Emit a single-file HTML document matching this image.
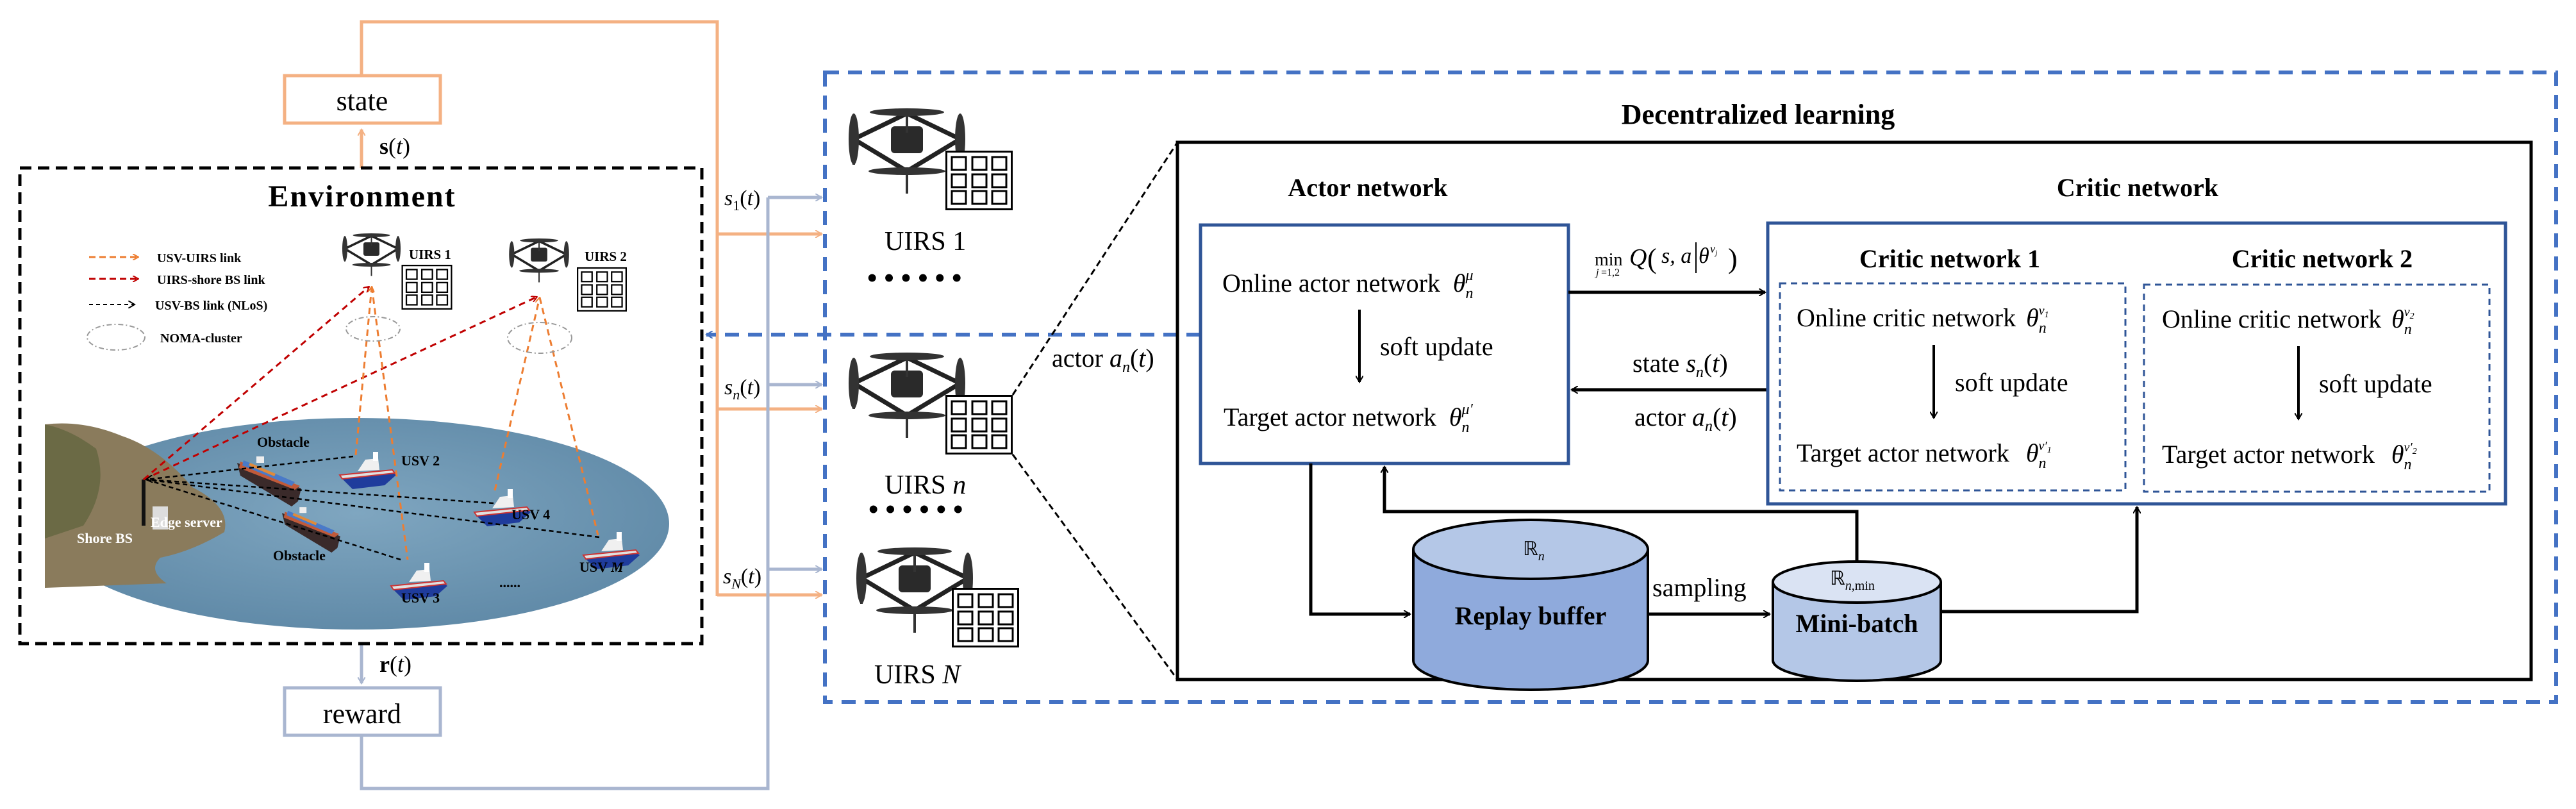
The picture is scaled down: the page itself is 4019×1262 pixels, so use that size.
<!DOCTYPE html>
<html><head><meta charset="utf-8"><style>
html,body{margin:0;padding:0;background:#fff}
svg{display:block}
svg text{font-family:"Liberation Serif","Times New Roman",serif}
.b{font-weight:bold}
.i{font-style:italic}
</style></head><body>
<svg width="4019" height="1262" viewBox="0 0 4019 1262" xmlns="http://www.w3.org/2000/svg" font-family="Liberation Serif, serif">
<defs>
<marker id="ao" markerWidth="12" markerHeight="12" refX="10" refY="6" orient="auto" markerUnits="userSpaceOnUse" viewBox="0 0 12 12"><path d="M0,0 L10,6 L0,12" fill="none" stroke="#f4b183" stroke-width="2"/></marker>
<marker id="ag" markerWidth="12" markerHeight="12" refX="10" refY="6" orient="auto" markerUnits="userSpaceOnUse" viewBox="0 0 12 12"><path d="M0,0 L10,6 L0,12" fill="none" stroke="#a9b6d0" stroke-width="2"/></marker>
<marker id="ak" markerWidth="12" markerHeight="12" refX="10" refY="6" orient="auto" markerUnits="userSpaceOnUse" viewBox="0 0 12 12"><path d="M0,0 L10,6 L0,12" fill="none" stroke="#000" stroke-width="2"/></marker>
<marker id="ab" markerWidth="12" markerHeight="12" refX="10" refY="6" orient="auto" markerUnits="userSpaceOnUse" viewBox="0 0 12 12"><path d="M0,0 L10,6 L0,12" fill="none" stroke="#4472c4" stroke-width="2"/></marker>
<marker id="ar" markerWidth="10" markerHeight="10" refX="9" refY="5" orient="auto" markerUnits="userSpaceOnUse" viewBox="0 0 10 10"><path d="M0,0 L9,5 L0,10" fill="none" stroke="#c00000" stroke-width="2"/></marker>
<marker id="aor" markerWidth="10" markerHeight="10" refX="9" refY="5" orient="auto" markerUnits="userSpaceOnUse" viewBox="0 0 10 10"><path d="M0,0 L9,5 L0,10" fill="none" stroke="#ed7d31" stroke-width="2"/></marker>
<radialGradient id="sea" cx="0.5" cy="0.45" r="0.6"><stop offset="0" stop-color="#7fa6c0"/><stop offset="1" stop-color="#5e88a6"/></radialGradient>
<symbol id="drone" viewBox="0 0 190 140" overflow="visible">
 <g stroke="#222" stroke-width="7" fill="none" stroke-linecap="round">
  <line x1="14" y1="52" x2="97" y2="12"/><line x1="97" y1="12" x2="180" y2="52"/>
  <line x1="14" y1="52" x2="97" y2="102"/><line x1="97" y1="102" x2="180" y2="52"/>
 </g>
 <rect x="72" y="32" width="50" height="42" rx="6" fill="#2a2a2a"/>
 <g fill="#333">
  <ellipse cx="97" cy="10" rx="58" ry="6"/><ellipse cx="97" cy="102" rx="60" ry="6"/>
  <ellipse cx="14" cy="52" rx="8" ry="40"/><ellipse cx="180" cy="52" rx="8" ry="40"/>
 </g>
 <g stroke="#333" stroke-width="4"><line x1="14" y1="52" x2="14" y2="92"/><line x1="180" y1="52" x2="180" y2="92"/><line x1="97" y1="102" x2="97" y2="137"/><line x1="97" y1="12" x2="97" y2="42"/></g>
</symbol>
<symbol id="grid" viewBox="0 0 105 93" overflow="visible">
 <rect x="1.5" y="1.5" width="102" height="90" fill="#fff" stroke="#000" stroke-width="3"/>
 <g fill="none" stroke="#000" stroke-width="3">
  <rect x="10" y="10" width="22" height="20"/><rect x="42" y="10" width="22" height="20"/><rect x="73" y="10" width="22" height="20"/>
  <rect x="10" y="37" width="22" height="20"/><rect x="42" y="37" width="22" height="20"/><rect x="73" y="37" width="22" height="20"/>
  <rect x="10" y="63" width="22" height="20"/><rect x="42" y="63" width="22" height="20"/><rect x="73" y="63" width="22" height="20"/>
 </g>
</symbol>
<symbol id="boat" viewBox="0 0 90 60" overflow="visible">
 <path d="M0,38 L80,30 L88,36 L70,52 L20,58 Z" fill="#1f3c9c"/>
 <path d="M0,36 L82,28 L86,33 L4,42 Z" fill="#e0e0e0" stroke="#c33" stroke-width="2"/>
 <path d="M28,30 L40,12 L60,10 L62,28 Z" fill="#f0f0f0"/>
 <rect x="52" y="0" width="8" height="14" fill="#fff"/>
</symbol>
<symbol id="ship" viewBox="0 0 110 80" overflow="visible">
 <path d="M0,10 L100,50 L95,70 L85,78 L5,30 Z" fill="#3a2a2a"/>
 <path d="M5,8 L98,46 L90,52 L3,18 Z" fill="#c05a3a"/>
 <path d="M10,6 L90,40 L85,46 L8,14 Z" fill="#4a7ac8"/>
 <path d="M20,10 L60,27 L58,31 L18,14 Z" fill="#e08a3a"/>
 <rect x="30" y="0" width="12" height="10" fill="#eee"/>
</symbol>
</defs>

<g fill="none" stroke-width="5">
 <polyline points="564,262 564,202" stroke="#f4b183" marker-end="url(#ao)"/>
 <polyline points="564,118 564,34 1119,34 1119,930" stroke="#f4b183"/>
 <line x1="1119" y1="365" x2="1282" y2="365" stroke="#f4b183" marker-end="url(#ao)"/>
 <line x1="1119" y1="638" x2="1282" y2="638" stroke="#f4b183" marker-end="url(#ao)"/>
 <line x1="1119" y1="928" x2="1282" y2="928" stroke="#f4b183" marker-end="url(#ao)"/>
 <polyline points="564,1004 564,1066" stroke="#a9b6d0" marker-end="url(#ag)"/>
 <polyline points="564,1147 564,1230 1198,1230 1198,308" stroke="#a9b6d0"/>
 <line x1="1198" y1="308" x2="1282" y2="308" stroke="#a9b6d0" marker-end="url(#ag)"/>
 <line x1="1198" y1="600" x2="1282" y2="600" stroke="#a9b6d0" marker-end="url(#ag)"/>
 <line x1="1198" y1="888" x2="1282" y2="888" stroke="#a9b6d0" marker-end="url(#ag)"/>
</g>
<rect x="444" y="118" width="243" height="74" fill="#fff" stroke="#f4b183" stroke-width="5"/>
<text x="565" y="172" font-size="44" text-anchor="middle">state</text>
<text x="592" y="240" font-size="36"><tspan class="b">s</tspan>(<tspan class="i">t</tspan>)</text>
<rect x="444" y="1073" width="243" height="74" fill="#fff" stroke="#a9b6d0" stroke-width="5"/>
<text x="565" y="1128" font-size="44" text-anchor="middle">reward</text>
<text x="592" y="1048" font-size="36"><tspan class="b">r</tspan>(<tspan class="i">t</tspan>)</text>
<text x="1130" y="320" font-size="34"><tspan class="i">s</tspan><tspan font-size="22" dy="8">1</tspan><tspan dy="-8">(</tspan><tspan class="i">t</tspan>)</text>
<text x="1130" y="615" font-size="34"><tspan class="i">s</tspan><tspan font-size="22" dy="8" class="i">n</tspan><tspan dy="-8">(</tspan><tspan class="i">t</tspan>)</text>
<text x="1128" y="910" font-size="34"><tspan class="i">s</tspan><tspan font-size="22" dy="8" class="i">N</tspan><tspan dy="-8">(</tspan><tspan class="i">t</tspan>)</text>

<rect x="31" y="262" width="1064" height="742" fill="none" stroke="#000" stroke-width="5" stroke-dasharray="18,10"/>
<text x="565" y="322" font-size="48" class="b" text-anchor="middle" letter-spacing="2">Environment</text>
<ellipse cx="557" cy="817" rx="487" ry="165" fill="url(#sea)"/>
<path d="M70,662 Q130,655 190,680 Q250,700 300,760 Q360,790 350,830 Q300,860 250,870 Q230,890 260,910 L70,917 Z" fill="#8a7b5c"/>
<path d="M70,662 Q110,670 150,700 Q170,760 130,820 L70,840 Z" fill="#6b6a45"/>
<line x1="224" y1="748" x2="224" y2="820" stroke="#111" stroke-width="6"/>
<rect x="238" y="790" width="24" height="36" fill="#ddd"/>
<text x="120" y="847" font-size="22" class="b" fill="#fff">Shore BS</text>
<text x="235" y="822" font-size="22" class="b" fill="#fff">Edge server</text>
<use href="#ship" x="370" y="712" width="110" height="80"/>
<use href="#ship" x="440" y="790" width="100" height="75"/>
<use href="#boat" x="530" y="705" width="90" height="60"/>
<use href="#boat" x="740" y="763" width="90" height="60"/>
<use href="#boat" x="910" y="830" width="90" height="60"/>
<use href="#boat" x="610" y="878" width="90" height="60"/>
<g font-size="22" class="b">
<text x="401" y="697">Obstacle</text><text x="426" y="874">Obstacle</text>
<text x="626" y="726">USV 2</text><text x="798" y="810">USV 4</text>
<text x="904" y="892">USV <tspan class="i">M</tspan></text><text x="626" y="940">USV 3</text>
<text x="779" y="916">......</text>
</g>
<g fill="none" stroke-width="3" stroke-dasharray="10,7">
 <line x1="224" y1="748" x2="576" y2="447" stroke="#c00000" marker-end="url(#ar)"/>
 <line x1="224" y1="748" x2="838" y2="463" stroke="#c00000" marker-end="url(#ar)"/>
 <line x1="555" y1="710" x2="580" y2="447" stroke="#ed7d31" marker-end="url(#aor)"/>
 <line x1="580" y1="447" x2="636" y2="873" stroke="#ed7d31"/>
 <line x1="772" y1="765" x2="842" y2="464" stroke="#ed7d31" marker-end="url(#aor)"/>
 <line x1="842" y1="464" x2="933" y2="835" stroke="#ed7d31"/>
 <g stroke="#000" stroke-width="2.5" stroke-dasharray="7,5">
 <line x1="551" y1="712" x2="228" y2="748" marker-end="url(#ak)"/>
 <line x1="770" y1="785" x2="228" y2="748"/>
 <line x1="935" y1="838" x2="228" y2="748"/>
 <line x1="625" y1="873" x2="228" y2="748"/>
 </g>
</g>
<ellipse cx="582" cy="513" rx="42" ry="19" fill="none" stroke="#999" stroke-width="2" stroke-dasharray="8,4,2,4"/>
<ellipse cx="842" cy="527" rx="50" ry="24" fill="none" stroke="#999" stroke-width="2" stroke-dasharray="8,4,2,4"/>
<use href="#drone" x="531" y="362" width="95" height="70"/>
<use href="#grid" x="626" y="413" width="80" height="70"/>
<use href="#drone" x="784" y="370" width="112" height="72"/>
<use href="#grid" x="900" y="416" width="78" height="71"/>
<g font-size="21" class="b"><text x="638" y="404">UIRS 1</text><text x="912" y="407">UIRS 2</text></g>
<g fill="none" stroke-width="3">
 <line x1="139" y1="401" x2="216" y2="401" stroke="#ed7d31" stroke-dasharray="10,6" marker-end="url(#aor)"/>
 <line x1="139" y1="435" x2="216" y2="435" stroke="#c00000" stroke-dasharray="10,6" marker-end="url(#ar)"/>
 <line x1="139" y1="475" x2="210" y2="475" stroke="#000" stroke-width="2" stroke-dasharray="6,5" marker-end="url(#ak)"/>
 <ellipse cx="181" cy="526" rx="45" ry="20" stroke="#999" stroke-width="2" stroke-dasharray="8,4,2,4"/>
</g>
<g font-size="20" class="b">
 <text x="245" y="409">USV-UIRS link</text><text x="245" y="443">UIRS-shore BS link</text>
 <text x="242" y="483">USV-BS link (NLoS)</text><text x="250" y="534">NOMA-cluster</text>
</g>

<rect x="1287" y="113" width="2701" height="982" fill="none" stroke="#4472c4" stroke-width="6" stroke-dasharray="22,14"/>
<line x1="1873" y1="522" x2="1102" y2="522" stroke="#4472c4" stroke-width="6" stroke-dasharray="22,14" marker-end="url(#ab)"/>
<text x="2743" y="193" font-size="44" class="b" text-anchor="middle">Decentralized learning</text>
<use href="#drone" x="1318" y="165" width="190" height="140"/>
<use href="#grid" x="1475" y="235" width="105" height="93"/>
<use href="#drone" x="1318" y="546" width="190" height="140"/>
<use href="#grid" x="1475" y="616" width="105" height="93"/>
<use href="#drone" x="1330" y="850" width="190" height="140"/>
<use href="#grid" x="1485" y="917" width="105" height="93"/>
<g font-size="42"><text x="1380" y="390">UIRS 1</text><text x="1380" y="770">UIRS <tspan class="i">n</tspan></text><text x="1364" y="1066">UIRS <tspan class="i">N</tspan></text></g>
<g font-size="44" class="b"><text x="1353" y="448">• • • • • •</text><text x="1355" y="809">• • • • • •</text></g>
<g stroke="#000" stroke-width="3" stroke-dasharray="10,6"><line x1="1580" y1="616" x2="1837" y2="222"/><line x1="1580" y1="709" x2="1837" y2="1060"/></g>
<text x="1641" y="572" font-size="40">actor <tspan class="i">a</tspan><tspan class="i" font-size="24" dy="8">n</tspan><tspan dy="-8">(</tspan><tspan class="i">t</tspan>)</text>
<rect x="1837" y="222" width="2112" height="838" fill="none" stroke="#000" stroke-width="5"/>

<text x="2134" y="306" font-size="40" class="b" text-anchor="middle">Actor network</text>
<rect x="1873" y="351" width="574" height="372" fill="#fff" stroke="#2f5597" stroke-width="5"/>
<text x="1907" y="455" font-size="40">Online actor network <tspan class="i" dx="10">θ</tspan><tspan class="i" font-size="24" dy="10">n</tspan><tspan class="i" font-size="24" dx="-12" dy="-28">μ</tspan></text>
<line x1="2121" y1="483" x2="2121" y2="596" stroke="#000" stroke-width="4" marker-end="url(#ak)"/>
<text x="2153" y="554" font-size="40">soft update</text>
<text x="1909" y="664" font-size="40">Target actor network <tspan class="i" dx="10">θ</tspan><tspan class="i" font-size="24" dy="10">n</tspan><tspan class="i" font-size="24" dx="-12" dy="-28">μ′</tspan></text>

<g fill="none" stroke="#000" stroke-width="5">
 <line x1="2447" y1="456" x2="2754" y2="456" marker-end="url(#ak)"/>
 <line x1="2758" y1="608" x2="2452" y2="608" marker-end="url(#ak)"/>
 <polyline points="2045,723 2045,958 2200,958" marker-end="url(#ak)"/>
 <polyline points="2897,876 2897,798 2160,798 2160,728" marker-end="url(#ak)"/>
 <line x1="2571" y1="958" x2="2761" y2="958" marker-end="url(#ak)"/>
 <polyline points="3028,954 3334,954 3334,791" marker-end="url(#ak)"/>
</g>
<text x="2488" y="414" font-size="28">min</text>
<text x="2490" y="430" font-size="16" class="i">j</text><text x="2498" y="430" font-size="16">=1,2</text>
<text x="2542" y="414" font-size="38" class="i">Q</text>
<text x="2570" y="418" font-size="44">(</text>
<text x="2592" y="410" font-size="34" class="i">s, a</text>
<line x1="2646" y1="378" x2="2646" y2="426" stroke="#000" stroke-width="2"/>
<text x="2650" y="410" font-size="34" class="i">θ</text><text x="2668" y="394" font-size="18" class="i">ν<tspan font-size="12" dy="4">j</tspan></text>
<text x="2696" y="418" font-size="44">)</text>
<text x="2547" y="580" font-size="40">state <tspan class="i">s</tspan><tspan class="i" font-size="24" dy="8">n</tspan><tspan dy="-8">(</tspan><tspan class="i">t</tspan>)</text>
<text x="2550" y="664" font-size="40">actor <tspan class="i">a</tspan><tspan class="i" font-size="24" dy="8">n</tspan><tspan dy="-8">(</tspan><tspan class="i">t</tspan>)</text>

<text x="3335" y="306" font-size="40" class="b" text-anchor="middle">Critic network</text>
<rect x="2758" y="348" width="1151" height="438" fill="#fff" stroke="#2f5597" stroke-width="5"/>
<text x="3042" y="417" font-size="40" class="b" text-anchor="middle">Critic network 1</text>
<text x="3623" y="417" font-size="40" class="b" text-anchor="middle">Critic network 2</text>
<rect x="2777" y="442" width="539" height="323" fill="none" stroke="#2f5597" stroke-width="3" stroke-dasharray="10,7"/>
<rect x="3345" y="444" width="539" height="323" fill="none" stroke="#2f5597" stroke-width="3" stroke-dasharray="10,7"/>
<g font-size="40">
<text x="2803" y="509">Online critic network <tspan class="i" dx="6">θ</tspan><tspan class="i" font-size="24" dy="10">n</tspan><tspan class="i" font-size="20" dx="-12" dy="-28">ν<tspan font-size="14" dy="4">1</tspan></tspan></text>
<text x="3050" y="610">soft update</text>
<text x="2803" y="720">Target actor network <tspan class="i" dx="16">θ</tspan><tspan class="i" font-size="24" dy="10">n</tspan><tspan class="i" font-size="20" dx="-12" dy="-28">ν′<tspan font-size="14" dy="4">1</tspan></tspan></text>
<text x="3373" y="511">Online critic network <tspan class="i" dx="6">θ</tspan><tspan class="i" font-size="24" dy="10">n</tspan><tspan class="i" font-size="20" dx="-12" dy="-28">ν<tspan font-size="14" dy="4">2</tspan></tspan></text>
<text x="3618" y="612">soft update</text>
<text x="3373" y="722">Target actor network <tspan class="i" dx="16">θ</tspan><tspan class="i" font-size="24" dy="10">n</tspan><tspan class="i" font-size="20" dx="-12" dy="-28">ν′<tspan font-size="14" dy="4">2</tspan></tspan></text>
</g>
<line x1="3017" y1="538" x2="3017" y2="652" stroke="#000" stroke-width="4" marker-end="url(#ak)"/>
<line x1="3586" y1="540" x2="3586" y2="654" stroke="#000" stroke-width="4" marker-end="url(#ak)"/>

<path d="M2205,857 L2205,1030 A183,46 0 0 0 2571,1030 L2571,857" fill="#8faadc" stroke="#000" stroke-width="4"/>
<ellipse cx="2388" cy="857" rx="183" ry="46" fill="#b4c7e7" stroke="#000" stroke-width="4"/>
<text x="2376" y="866" font-size="30">ℝ<tspan class="i" font-size="20" dy="8">n</tspan></text>
<text x="2388" y="974" font-size="40" class="b" text-anchor="middle">Replay buffer</text>
<text x="2578" y="930" font-size="40">sampling</text>
<path d="M2766,908 L2766,1030 A131,32 0 0 0 3028,1030 L3028,908" fill="#b4c7e7" stroke="#000" stroke-width="4"/>
<ellipse cx="2897" cy="908" rx="131" ry="32" fill="#dae3f3" stroke="#000" stroke-width="4"/>
<text x="2855" y="912" font-size="30">ℝ<tspan class="i" font-size="20" dy="8">n</tspan><tspan font-size="20">,min</tspan></text>
<text x="2897" y="986" font-size="40" class="b" text-anchor="middle">Mini-batch</text>
</svg>
</body></html>
